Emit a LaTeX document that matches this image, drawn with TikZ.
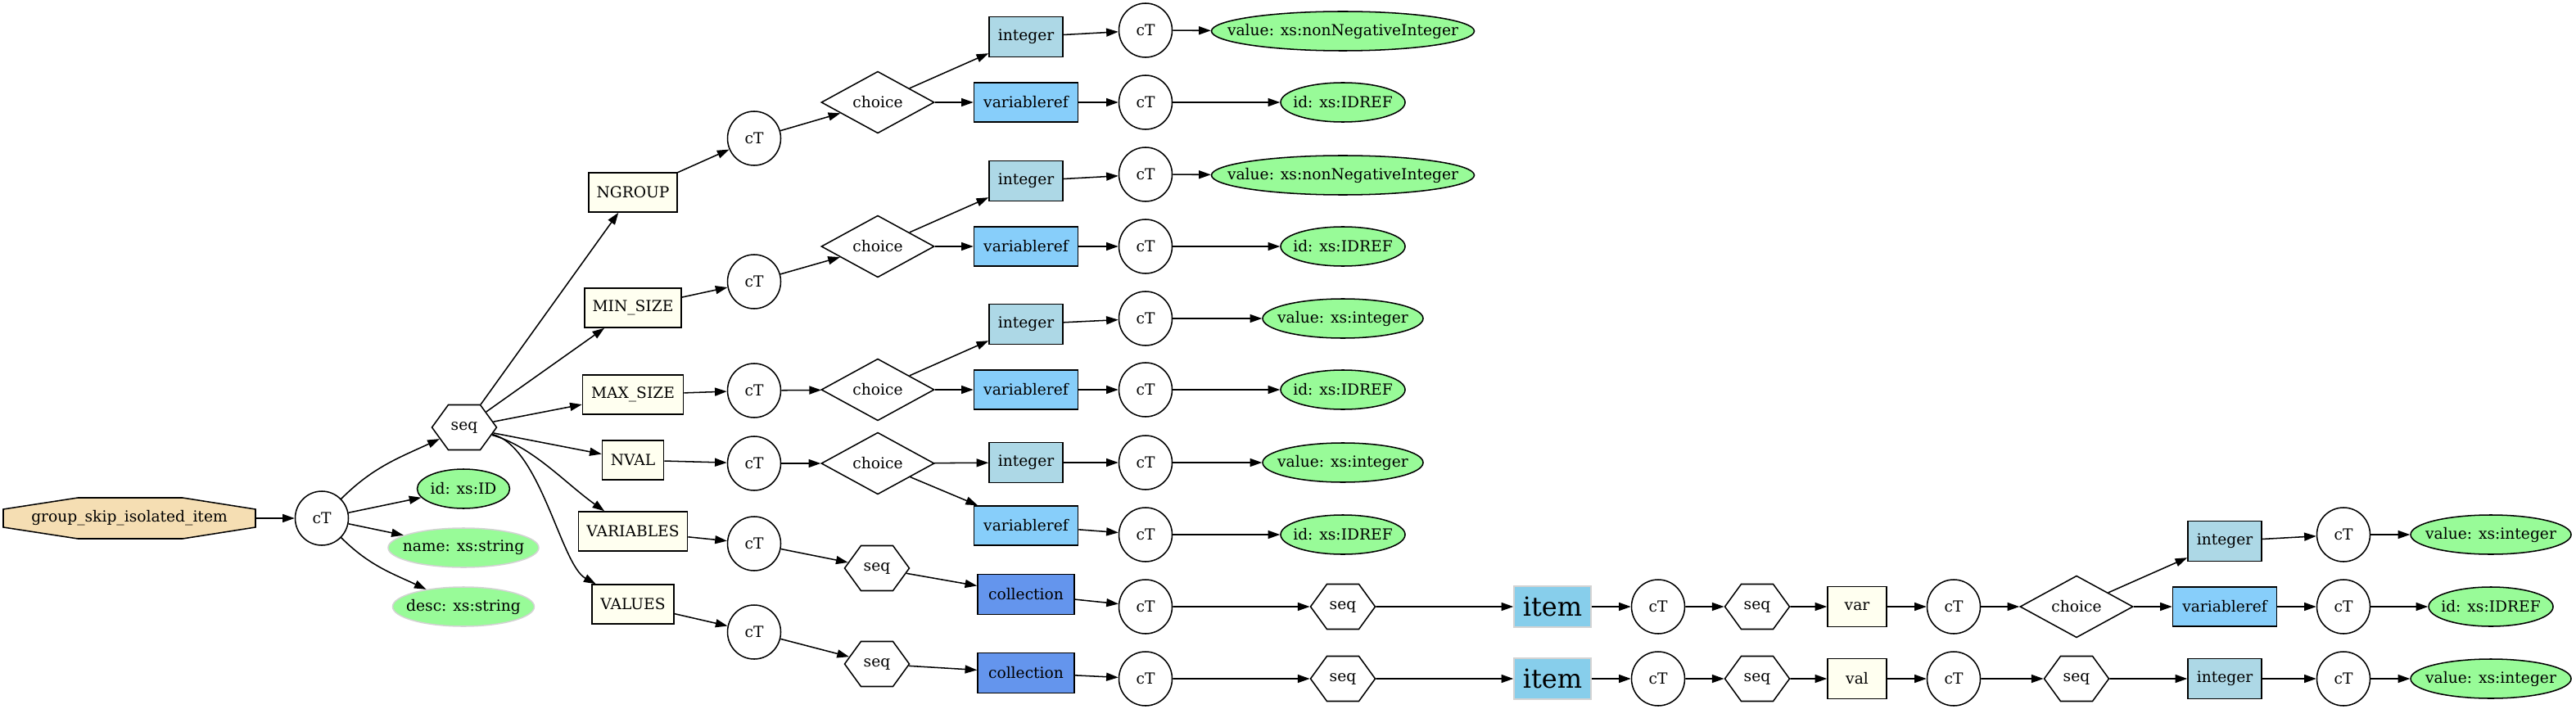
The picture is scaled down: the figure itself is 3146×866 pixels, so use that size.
\documentclass[tikz,border=0pt]{standalone}
\usepackage{fontspec}
\setmainfont{DejaVu Serif}
\usetikzlibrary{shapes.geometric,shapes.symbols,arrows.meta}
\definecolor{wheat}{HTML}{F5DEB3}
\definecolor{ivory}{HTML}{FFFFF0}
\definecolor{lblue}{HTML}{ADD8E6}
\definecolor{lskyblue}{HTML}{87CEFA}
\definecolor{cfblue}{HTML}{6495ED}
\definecolor{skyblue}{HTML}{87CEEB}
\definecolor{pgreen}{HTML}{98FB98}
\definecolor{lgray}{HTML}{D3D3D3}
\begin{document}
\begin{tikzpicture}[x=0.75pt,y=0.75pt,
  font=\fontsize{14pt}{16pt}\selectfont,
  every node/.style={inner sep=0pt, line width=1.15pt},
  ctn/.style={ellipse, draw, minimum width=48.75pt, minimum height=49.5pt},
  elem/.style={rectangle, draw, fill=ivory, minimum height=36pt},
  intbox/.style={rectangle, draw, fill=lblue, minimum width=67.5pt, minimum height=36.75pt},
  vrbox/.style={rectangle, draw, fill=lskyblue, minimum width=95.25pt, minimum height=36pt},
  colbox/.style={rectangle, draw, fill=cfblue, minimum width=88.5pt, minimum height=36.75pt},
  itembox/.style={rectangle, draw=lgray, fill=skyblue, minimum width=70.5pt, minimum height=37.5pt, font=\fontsize{24pt}{28pt}\selectfont},
  attr/.style={ellipse, draw, fill=pgreen, minimum height=36pt},
  attrg/.style={ellipse, draw=lgray, fill=pgreen, minimum height=36pt},
  choicen/.style={diamond, draw, minimum width=103.5pt, minimum height=50.25pt},
  seqn/.style={signal, signal to=east and west, signal pointer angle=108, draw, minimum width=59.25pt, minimum height=41.25pt},
  conn/.style={draw, line width=1.15pt, -{Triangle[length=11pt,width=7.5pt]}}
]
\useasboundingbox (0,0) rectangle (3146,-866);

% root octagon
\filldraw[fill=wheat, line width=1.15pt] (4,-622) -- (95,-608) -- (223,-608) -- (312,-622) -- (312,-644) -- (223,-658) -- (95,-658) -- (4,-644) -- cycle;
\node[minimum width=231pt, minimum height=37.5pt] (root) at (158,-633) {group\_skip\_isolated\_item};

\node[ctn] (ct0) at (393,-633) {cT};
\node[seqn] (seq0) at (567,-522) {seq};
\node[attr, minimum width=84.75pt] (idr) at (566,-597) {\makebox[0pt]{id: xs:ID}};
\node[attrg, minimum width=138pt] (namer) at (566,-669) {\makebox[0pt]{name: xs:string}};
\node[attrg, minimum width=129.75pt] (descr) at (566,-741) {\makebox[0pt]{desc: xs:string}};

% elements
\node[elem, minimum width=81pt] (ng) at (773,-235) {NGROUP};
\node[elem, minimum width=88.5pt] (mins) at (773,-376) {MIN\_SIZE};
\node[elem, minimum width=92.25pt] (maxs) at (773,-482) {MAX\_SIZE};
\node[elem, minimum width=56.25pt] (nval) at (773,-562) {NVAL};
\node[elem, minimum width=99.75pt] (vars) at (773,-649) {VARIABLES};
\node[elem, minimum width=75pt] (vals) at (773,-738) {VALUES};

\node[ctn] (ctng) at (921,-169) {cT};
\node[ctn] (ctmin) at (921,-344) {cT};
\node[ctn] (ctmax) at (921,-477) {cT};
\node[ctn] (ctnv) at (921,-566) {cT};
\node[ctn] (ctvars) at (921,-664) {cT};
\node[ctn] (ctvals) at (921,-772) {cT};

\node[choicen] (chng) at (1072,-125) {choice};
\node[choicen] (chmin) at (1072,-301) {choice};
\node[choicen] (chmax) at (1072,-476) {choice};
\node[choicen] (chnv) at (1072,-566) {choice};
\node[seqn] (seqvars) at (1071,-694) {seq};
\node[seqn] (seqvals) at (1071,-811) {seq};

\node[intbox] (inta) at (1253,-45) {integer};
\node[vrbox] (vra) at (1253,-125) {variableref};
\node[intbox] (intb) at (1253,-221) {integer};
\node[vrbox] (vrb) at (1253,-301) {variableref};
\node[intbox] (intc) at (1253,-396) {integer};
\node[vrbox] (vrc) at (1253,-476) {variableref};
\node[intbox] (intd) at (1253,-565) {integer};
\node[vrbox] (vrd) at (1253,-642) {variableref};
\node[colbox] (colvars) at (1253,-726) {collection};
\node[colbox] (colvals) at (1253,-822) {collection};

\node[ctn] (cta1) at (1399,-37) {cT};
\node[ctn] (cta2) at (1399,-125) {cT};
\node[ctn] (ctb1) at (1399,-213) {cT};
\node[ctn] (ctb2) at (1399,-301) {cT};
\node[ctn] (ctc1) at (1399,-389) {cT};
\node[ctn] (ctc2) at (1399,-476) {cT};
\node[ctn] (ctd1) at (1399,-565) {cT};
\node[ctn] (ctd2) at (1399,-653) {cT};
\node[ctn] (cte) at (1399,-741) {cT};
\node[ctn] (ctf) at (1399,-829) {cT};

\node[attr, minimum width=240.75pt] (vala) at (1640,-38) {\makebox[0pt]{value: xs:nonNegativeInteger}};
\node[attr, minimum width=114pt] (ida) at (1640,-125) {\makebox[0pt]{id: xs:IDREF}};
\node[attr, minimum width=240.75pt] (valb) at (1640,-214) {\makebox[0pt]{value: xs:nonNegativeInteger}};
\node[attr, minimum width=114pt] (idb) at (1640,-301) {\makebox[0pt]{id: xs:IDREF}};
\node[attr, minimum width=147pt] (valc) at (1640,-389) {\makebox[0pt]{value: xs:integer}};
\node[attr, minimum width=114pt] (idc) at (1640,-476) {\makebox[0pt]{id: xs:IDREF}};
\node[attr, minimum width=147pt] (vald) at (1640,-565) {\makebox[0pt]{value: xs:integer}};
\node[attr, minimum width=114pt] (idd) at (1640,-653) {\makebox[0pt]{id: xs:IDREF}};
\node[seqn] (seqe) at (1640,-741) {seq};
\node[seqn] (seqf) at (1640,-829) {seq};

\node[itembox] (iteme) at (1896,-741) {item};
\node[itembox] (itemf) at (1896,-829) {item};
\node[ctn] (ctg) at (2025,-741) {cT};
\node[ctn] (cth) at (2025,-829) {cT};
\node[seqn] (seqg) at (2146,-741) {seq};
\node[seqn] (seqh) at (2146,-829) {seq};
\node[elem, minimum width=54pt, minimum height=36.75pt] (var) at (2268,-741) {var};
\node[elem, minimum width=54pt, minimum height=36.75pt] (val) at (2268,-829) {val};
\node[ctn] (cti) at (2386,-741) {cT};
\node[ctn] (ctj) at (2386,-829) {cT};
\node[choicen] (chi) at (2536,-741) {choice};
\node[seqn] (seqj) at (2536,-829) {seq};
\node[intbox] (intk) at (2717,-661) {integer};
\node[vrbox] (vrl) at (2717,-741) {variableref};
\node[intbox] (intm) at (2717,-829) {integer};
\node[ctn] (ctk) at (2862,-653) {cT};
\node[ctn] (ctl) at (2862,-741) {cT};
\node[ctn] (ctm) at (2862,-829) {cT};
\node[attr, minimum width=147pt] (valk) at (3042,-653) {\makebox[0pt]{value: xs:integer}};
\node[attr, minimum width=114pt] (idl) at (3042,-741) {\makebox[0pt]{id: xs:IDREF}};
\node[attr, minimum width=147pt] (valm) at (3042,-829) {\makebox[0pt]{value: xs:integer}};

% connectors
\draw[conn] (root) -- (ct0);
\draw[conn] (ct0) to[out=45, in=-155] (seq0);
\draw[conn] (ct0) -- (idr);
\draw[conn] (ct0) -- (namer);
\draw[conn] (ct0) to[out=-45, in=155] (descr);

\draw[conn] (seq0) -- (ng);
\draw[conn] (seq0) -- (mins);
\draw[conn] (seq0) -- (maxs);
\draw[conn] (seq0) -- (nval);
\draw[conn] (seq0) .. controls (650,-545) and (690,-590) .. (vars);
\draw[conn] (seq0) .. controls (660,-545) and (685,-690) .. (vals);

\draw[conn] (ng) -- (ctng);
\draw[conn] (mins) -- (ctmin);
\draw[conn] (maxs) -- (ctmax);
\draw[conn] (nval) -- (ctnv);
\draw[conn] (vars) -- (ctvars);
\draw[conn] (vals) -- (ctvals);

\draw[conn] (ctng) -- (chng);
\draw[conn] (ctmin) -- (chmin);
\draw[conn] (ctmax) -- (chmax);
\draw[conn] (ctnv) -- (chnv);
\draw[conn] (ctvars) -- (seqvars);
\draw[conn] (ctvals) -- (seqvals);

\draw[conn] (chng) -- (inta);
\draw[conn] (chng) -- (vra);
\draw[conn] (chmin) -- (intb);
\draw[conn] (chmin) -- (vrb);
\draw[conn] (chmax) -- (intc);
\draw[conn] (chmax) -- (vrc);
\draw[conn] (chnv) -- (intd);
\draw[conn] (chnv) -- (vrd);
\draw[conn] (seqvars) -- (colvars);
\draw[conn] (seqvals) -- (colvals);

\draw[conn] (inta) -- (cta1);
\draw[conn] (vra) -- (cta2);
\draw[conn] (intb) -- (ctb1);
\draw[conn] (vrb) -- (ctb2);
\draw[conn] (intc) -- (ctc1);
\draw[conn] (vrc) -- (ctc2);
\draw[conn] (intd) -- (ctd1);
\draw[conn] (vrd) -- (ctd2);
\draw[conn] (colvars) -- (cte);
\draw[conn] (colvals) -- (ctf);

\draw[conn] (cta1) -- (vala);
\draw[conn] (cta2) -- (ida);
\draw[conn] (ctb1) -- (valb);
\draw[conn] (ctb2) -- (idb);
\draw[conn] (ctc1) -- (valc);
\draw[conn] (ctc2) -- (idc);
\draw[conn] (ctd1) -- (vald);
\draw[conn] (ctd2) -- (idd);
\draw[conn] (cte) -- (seqe);
\draw[conn] (ctf) -- (seqf);

\draw[conn] (seqe) -- (iteme);
\draw[conn] (seqf) -- (itemf);
\draw[conn] (iteme) -- (ctg);
\draw[conn] (itemf) -- (cth);
\draw[conn] (ctg) -- (seqg);
\draw[conn] (cth) -- (seqh);
\draw[conn] (seqg) -- (var);
\draw[conn] (seqh) -- (val);
\draw[conn] (var) -- (cti);
\draw[conn] (val) -- (ctj);
\draw[conn] (cti) -- (chi);
\draw[conn] (ctj) -- (seqj);
\draw[conn] (chi) -- (intk);
\draw[conn] (chi) -- (vrl);
\draw[conn] (seqj) -- (intm);
\draw[conn] (intk) -- (ctk);
\draw[conn] (vrl) -- (ctl);
\draw[conn] (intm) -- (ctm);
\draw[conn] (ctk) -- (valk);
\draw[conn] (ctl) -- (idl);
\draw[conn] (ctm) -- (valm);
\end{tikzpicture}
\end{document}
